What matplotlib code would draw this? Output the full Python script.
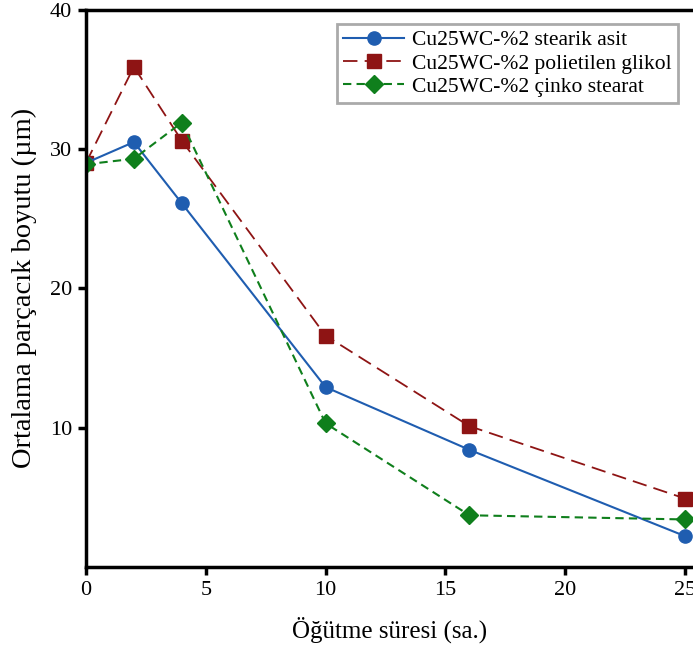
import matplotlib
matplotlib.use("Agg")
import matplotlib.pyplot as plt

plt.rcParams["font.family"] = ["Liberation Serif", "DejaVu Serif"]

# Milling time (hours)
times = [0, 2, 4, 10, 16, 25]

# Mean particle size (um)
stearik_asit = [29.0, 30.5, 26.1, 12.9, 8.4, 2.2]
polietilen_glikol = [29.0, 35.9, 30.6, 16.6, 10.1, 4.9]
cinko_stearat = [28.9, 29.3, 31.9, 10.3, 3.7, 3.4]

labels = ["Cu25WC-%2 stearik asit", "Cu25WC-%2 polietilen glikol",
          "Cu25WC-%2 çinko stearat"]

fig = plt.figure(figsize=(6.93, 6.5), dpi=100)
ax = fig.add_axes([0.124, 0.128, 0.875, 0.857])

ax.plot(times, polietilen_glikol, color="#8e1414", linestyle=(0, (8, 4)),
        linewidth=1.3, marker="s", markersize=10, label=labels[1])
ax.plot(times, stearik_asit, color="#1f5db0", linestyle="-", linewidth=1.5,
        marker="o", markersize=9.5, label=labels[0])
ax.plot(times, cinko_stearat, color="#0f7f1c", linestyle=(0, (4, 2.5)),
        linewidth=1.5, marker="D", markersize=9.5, label=labels[2])

ax.set_xlim(0, 25.3)
ax.set_ylim(0, 40)
ax.set_xticks([0, 5, 10, 15, 20, 25])
ax.set_yticks([10, 20, 30, 40])
ax.tick_params(direction="out", length=6, width=2.5, labelsize=16, pad=4)
for sp in ax.spines.values():
    sp.set_linewidth(2.5)
ax.spines["right"].set_visible(False)

ax.set_xlabel("Öğütme süresi (sa.)", fontsize=18, labelpad=12)
ax.set_ylabel("Ortalama parçacık boyutu (µm)", fontsize=20.5, labelpad=9)

handles, labs = ax.get_legend_handles_labels()
order = [1, 0, 2]
leg = ax.legend([handles[i] for i in order], [labs[i] for i in order],
                loc="upper right", bbox_to_anchor=(0.977, 0.975), fontsize=15.5,
                fancybox=False, framealpha=1, edgecolor="#aaaaaa",
                handlelength=2.8, handletextpad=0.4, borderpad=0.3,
                labelspacing=0.15, borderaxespad=0)
leg.get_frame().set_linewidth(2)

fig.savefig("out.png", dpi=100)
